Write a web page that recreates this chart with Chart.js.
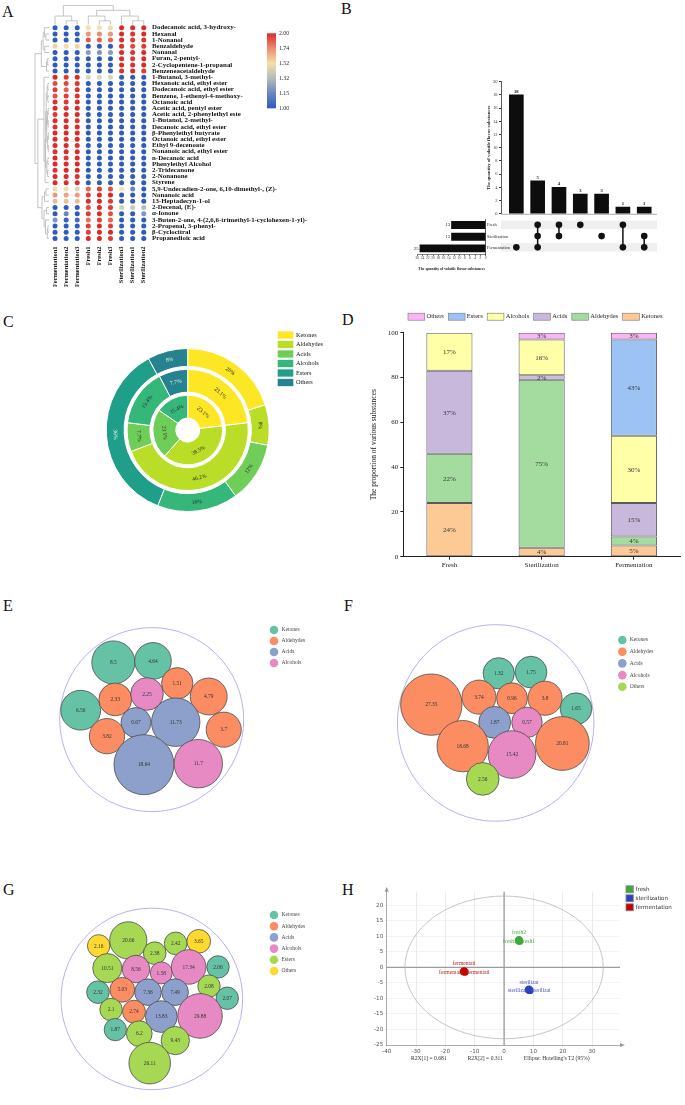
<!DOCTYPE html>
<html>
<head>
<meta charset="utf-8">
<title>Volatile flavor substances</title>
<script src="https://cdn.jsdelivr.net/npm/chart.js@4.4.1/dist/chart.umd.min.js"></script>
<style>
html,body{margin:0;padding:0;background:#fff;}
body{width:685px;height:1105px;position:relative;overflow:hidden;}
canvas{position:absolute;}
.letter{position:absolute;font-family:'Liberation Serif','Times New Roman',serif;font-size:16px;line-height:16px;color:#111;}
</style>
</head>
<body>
<div class="letter" style="left:2px;top:4px">A</div>
<div class="letter" style="left:341px;top:0.5px">B</div>
<div class="letter" style="left:3px;top:314px">C</div>
<div class="letter" style="left:342px;top:312px">D</div>
<div class="letter" style="left:3px;top:598px">E</div>
<div class="letter" style="left:344px;top:598px">F</div>
<div class="letter" style="left:3px;top:882px">G</div>
<div class="letter" style="left:342px;top:882px">H</div>
<script>
// ================= DATA =================
// Panel A - heatmap
const heatRows = ['Dodecanoic acid, 3-hydroxy-','Hexanal','1-Nonanol','Benzaldehyde','Nonanal','Furan, 2-pentyl-','2-Cyclopentene-1-propanal','Benzeneacetaldehyde','1-Butanol, 3-methyl-','Hexanoic acid, ethyl ester','Dodecanoic acid, ethyl ester','Benzene, 1-ethenyl-4-methoxy-','Octanoic acid','Acetic acid, pentyl ester','Acetic acid, 2-phenylethyl este','1-Butanol, 2-methyl-','Decanoic acid, ethyl ester','β-Phenylethyl butyrate','Octanoic acid, ethyl ester','Ethyl 9-decenoate','Nonanoic acid, ethyl ester','n-Decanoic acid','Phenylethyl Alcohol','2-Tridecanone','2-Nonanone','Styrene','5,9-Undecadien-2-one, 6,10-dimethyl-, (Z)-','Nonanoic acid','13-Heptadecyn-1-ol','2-Decenal, (E)-','α-Ionone','3-Buten-2-one, 4-(2,6,6-trimethyl-1-cyclohexen-1-yl)-','2-Propenal, 3-phenyl-','β-Cyclocitral','Propanedioic acid'];
const heatCols = ['Fermentation1','Fermentation2','Fermentation3','Fresh1','Fresh2','Fresh3','Sterilization3','Sterilization1','Sterilization2'];
const heatVals = [
 [1,1,1, 1.47,1.48,1.46, 2,2,2],
 [1,1,1, 1.72,1.74,1.72, 2,1.98,2],
 [1,1,1, 1.88,1.86,1.84, 2,1.96,1.98],
 [1.55,1.53,1.55, 1,1,1, 1.98,1.92,1.96],
 [1,1,1, 1.22,1.2,1.22, 2,1.98,2],
 [1,1,1, 1,1,1, 2,1.96,2],
 [1,1,1, 1,1,1, 2,1.98,2],
 [1,1,1, 1,1,1, 1.98,2,1.96],
 [2,1.96,2, 1.4,1.42,1.4, 1,1,1],
 [1.9,1.92,1.96, 1,1,1, 1,1,1],
 [1.95,1.86,1.98, 1,1,1, 1,1,1],
 [1.9,1.95,1.98, 1,1,1, 1,1,1],
 [1.98,1.96,2, 1,1,1, 1,1,1],
 [2,1.98,2, 1,1,1, 1,1,1],
 [1.96,2,2, 1,1,1, 1,1,1],
 [2,2,1.98, 1,1,1, 1,1,1],
 [1.98,2,2, 1,1,1, 1,1,1],
 [2,2,2, 1,1,1, 1,1,1],
 [2,1.98,2, 1,1,1, 1,1,1],
 [2,2,1.98, 1,1,1, 1,1,1],
 [1.98,2,2, 1,1,1, 1,1,1],
 [2,1.96,2, 1,1,1, 1,1,1],
 [2,2,2, 1,1,1, 1,1,1],
 [1.98,2,2, 1,1,1, 1,1,1],
 [2,2,1.98, 1,1,1, 1,1,1],
 [2,2,2, 1,1,1, 1,1,1],
 [1.46,1.45,1.4, 1.85,1.95,1.9, 1.5,1.15,1],
 [1.7,1.68,1.7, 1.95,2,2, 1,1,1],
 [1.62,1.6,1.62, 2,2,1.95, 1,1,1],
 [1,1,1, 1.9,2,1.95, 1.38,1.36,1.32],
 [1,1.15,1, 1.95,2,1.9, 1,1,1.2],
 [1.2,1.02,1.06, 1.82,1.95,1.85, 1,1,1],
 [1,1,1, 1.95,2,1.95, 1,1,1],
 [1,1,1, 1.95,2,2, 1,1,1],
 [1,1,1, 2,2,1.95, 1,1,1]
];
const colorbarTicks = [2.00,1.74,1.52,1.32,1.15,1.00];
// dendrograms: [childA, childB, height]; leaves 0..n-1, merged nodes n, n+1, ...
const colMerges = [[1,2,0.2],[0,9,0.45],[4,5,0.2],[3,11,0.45],[7,8,0.2],[6,13,0.45],[12,14,0.75],[10,15,1.0]];
const rowMerges = [[5,6,0.12],[35,7,0.18],[3,4,0.3],[1,2,0.22],[0,38,0.32],[39,37,0.42],[40,36,0.55],
 [9,10,0.08],[11,12,0.08],[13,14,0.06],[15,16,0.06],[17,18,0.05],[19,20,0.05],[21,22,0.08],[23,24,0.1],
 [42,43,0.13],[44,45,0.11],[46,47,0.1],[48,49,0.15],[51,52,0.16],[50,54,0.2],[55,53,0.24],[56,25,0.28],[8,57,0.36],
 [26,27,0.22],[59,28,0.32],[29,30,0.18],[32,33,0.08],[62,34,0.12],[31,63,0.25],[61,64,0.35],[60,65,0.5],
 [58,66,0.8],[41,67,1.0]];

// Panel B - UpSet
const setNames = ['Fresh','Sterilization','Fermentation'];
const setSizes = [13,13,25];
const interSizes = [18,5,4,3,3,1,1];
const interMembers = [[2],[0,1,2],[0,1],[0],[1],[0,2],[1,2]];
const upsetYTicks = [0,2,4,6,8,10,12,14,16,18,20];

// Panel C - nested donut (inner: Fresh, middle: Sterilization, outer: Fermentation)
const classNames = ['Ketones','Aldehydes','Acids','Alcohols','Esters','Others'];
const cFresh = [23.1,38.5,23.1,15.4,0,0];
const cSterilization = [23.1,46.2,7.7,15.4,0,7.7];
const cFermentation = [20,8,12,16,36,8];

// Panel D - stacked proportions (%)
const dGroups = ['Fresh','Sterilization','Fermentation'];
const dKetones = [24,4,5];
const dAldehydes = [22,75,4];
const dAcids = [37,2,15];
const dAlcohols = [17,16,30];
const dEsters = [0,0,43];
const dOthers = [0,3,3];
const dTicks = [0,20,40,60,80,100];

// Panel E - Fresh packed bubbles (value, class, layout position in circle units)
const eValues = [8.5,4.64,6.56,2.33,2.25,1.51,4.79,0.67,11.73,3.7,3.82,18.64,11.7];
const eClasses = ['Ketones','Ketones','Ketones','Aldehydes','Alcohols','Aldehydes','Aldehydes','Acids','Acids','Aldehydes','Aldehydes','Acids','Alcohols'];
const eX = [-41.7,1.4,-77.2,-39.6,-5.1,27.8,62,-17.1,26.1,78.3,-48.6,-8.4,50.7];
const eY = [-63.8,-65.5,-10.5,-22.5,-28.6,-40.5,-25.8,3.3,2.9,11.2,18.5,50.3,49.2];

// Panel F - Sterilization
const fValues = [1.32,1.75,27.35,3.74,0.96,3.8,1.65,1.87,0.57,18.68,15.42,20.81,2.56];
const fClasses = ['Ketones','Ketones','Aldehydes','Aldehydes','Aldehydes','Aldehydes','Ketones','Acids','Alcohols','Aldehydes','Alcohols','Aldehydes','Others'];
const fX = [3.1,35.9,-65.5,-17,16.6,50.2,81.7,-1,31.8,-33.6,16.6,67.8,-13.2];
const fY = [-58,-59.4,-21.4,-30.2,-28.9,-28.9,-16.7,-0.7,-0.7,27.1,36.9,24,65.4];

// Panel G - Fermentation
const gValues = [2.16,20.66,2.38,2.42,3.65,10.51,8.56,1.58,17.34,2.06,2.32,5.03,7.36,7.49,2.08,2.07,2.1,2.74,13.83,29.88,1.87,6.2,9.43,26.11];
const gClasses = ['Others','Esters','Esters','Esters','Others','Esters','Alcohols','Alcohols','Alcohols','Ketones','Ketones','Aldehydes','Acids','Acids','Esters','Ketones','Esters','Aldehydes','Acids','Alcohols','Ketones','Esters','Esters','Esters'];
const gX = [-58.5,-25.9,3.2,26.3,51.7,-49,-17.4,10.5,40.6,72.9,-59.3,-32.5,-4.2,25.6,63,83.1,-44.9,-19.6,10.5,53.1,-40.2,-13.8,25.9,-2.3];
const gY = [-63.9,-70.5,-55.1,-66.9,-69.4,-37.1,-36,-31.3,-38.5,-38.5,-8.1,-11,-8.1,-8.1,-15.4,-0.8,12.8,15.4,21.3,20.5,37,41.9,50.2,77.4];

// Panel H - PCA scores
const pcaGroups = ['fresh','sterilization','fermentation'];
const pcaX = [[5.3,5.1,4.9],[8.8,8.5,8.3],[-13.3,-13.6,-13.8]];
const pcaY = [[8.4,8.9,8.6],[-7.4,-7.0,-7.3],[-1.5,-1.1,-1.4]];
const pcaNames = [['fresh1','fresh2','fresh3'],['sterilizat','sterilizat','sterilizat'],['fermentati','fermentati','fermentati']];
const pcaXTicks = [-40,-30,-20,-10,0,10,20,30];
const pcaYTicks = [-25,-20,-15,-10,-5,0,5,10,15,20];
const pcaEllipse = [33.8, 23.0];
const pcaNotes = ['R2X[1] = 0.681','R2X[2] = 0.311',"Ellipse: Hotelling's T2 (95%)"];

// ================= SETUP =================
const SERIF = "'Liberation Serif','Times New Roman',serif";
const SANS = "'DejaVu Sans','Liberation Sans',sans-serif";
Chart.defaults.animation = false;
Chart.defaults.responsive = false;
Chart.defaults.events = [];
Chart.defaults.font.family = SERIF;
Chart.defaults.color = '#222';
Chart.defaults.plugins.legend.display = false;
Chart.defaults.plugins.tooltip.enabled = false;

function mk(l,t,w,h){
  const c=document.createElement('canvas');
  c.width=w;c.height=h;
  Object.assign(c.style,{left:l+'px',top:t+'px',width:w+'px',height:h+'px'});
  document.body.appendChild(c);return c;
}
function hexRgb(h){return [parseInt(h.substr(1,2),16),parseInt(h.substr(3,2),16),parseInt(h.substr(5,2),16)];}
const heatStops=[[1.0,'#2f5bbb'],[1.2,'#7d95c2'],[1.4,'#d9d5b7'],[1.5,'#f4e6b0'],[1.75,'#ec8a6a'],[2.0,'#dc2a28']];
function heatColor(v){
  for(let i=1;i<heatStops.length;i++){
    if(v<=heatStops[i][0]){
      const [v0,c0]=heatStops[i-1],[v1,c1]=heatStops[i];
      const t=Math.max(0,(v-v0)/(v1-v0));const a=hexRgb(c0),b=hexRgb(c1);
      return 'rgb('+a.map((x,k)=>Math.round(x+(b[k]-x)*t)).join(',')+')';
    }
  }
  return heatStops[heatStops.length-1][1];
}
function dendro(ctx,n,merges,leafPos,base,span,top){
  const pos=[],h=[];
  for(let i=0;i<n;i++){pos[i]=leafPos(i);h[i]=0;}
  merges.forEach(([a,b,hh],k)=>{
    const d=base-hh*span,da=base-h[a]*span,db=base-h[b]*span;
    ctx.beginPath();
    if(top){ctx.moveTo(pos[a],da);ctx.lineTo(pos[a],d);ctx.lineTo(pos[b],d);ctx.lineTo(pos[b],db);}
    else{ctx.moveTo(da,pos[a]);ctx.lineTo(d,pos[a]);ctx.lineTo(d,pos[b]);ctx.lineTo(db,pos[b]);}
    ctx.stroke();pos[n+k]=(pos[a]+pos[b])/2;h[n+k]=hh;
  });
}
function drawLegend(ctx,names,colors,x,y,dy,o){
  ctx.save();ctx.font=o.font;ctx.textBaseline='middle';ctx.textAlign='left';
  names.forEach((nm,i)=>{
    const yy=y+i*dy;ctx.fillStyle=colors[i];
    if(o.shape==='circle'){ctx.beginPath();ctx.arc(x,yy,o.r,0,Math.PI*2);ctx.fill();}
    else{ctx.fillRect(x,yy-o.h/2,o.w,o.h);if(o.stroke){ctx.strokeStyle=o.stroke;ctx.lineWidth=0.8;ctx.strokeRect(x,yy-o.h/2,o.w,o.h);}}
    ctx.fillStyle=o.color||'#333';ctx.fillText(nm,o.tx,yy);
  });
  ctx.restore();
}

// ================= PANEL A =================
(function(){
  const L=0,T=0,W=340,H=300;
  const cv=mk(L,T,W,H);
  const pts=[],cols=[];
  heatVals.forEach((row,r)=>row.forEach((v,c)=>{pts.push({x:c,y:r});cols.push(heatColor(v));}));
  const extra={id:'heatExtra',afterDraw(chart){
    const ctx=chart.ctx,xs=chart.scales.x,ys=chart.scales.y,a=chart.chartArea;
    ctx.save();ctx.strokeStyle='#b5b5b5';ctx.lineWidth=0.8;
    dendro(ctx,heatCols.length,colMerges,i=>xs.getPixelForValue(i),a.top,19,true);
    dendro(ctx,heatRows.length,rowMerges,i=>ys.getPixelForValue(i),a.left-0.5,14,false);
    // colour bar
    const bx=267,bw=9,by=33.3,bh=75;
    const g=ctx.createLinearGradient(0,by,0,by+bh);
    colorbarTicks.forEach((t,i)=>g.addColorStop(i/(colorbarTicks.length-1),heatColor(t)));
    ctx.fillStyle=g;ctx.fillRect(bx,by,bw,bh);
    ctx.fillStyle='#222';ctx.font='5.8px '+SERIF;ctx.textBaseline='middle';ctx.textAlign='left';
    colorbarTicks.forEach((t,i)=>ctx.fillText(t.toFixed(2),bx+bw+3,by+i*bh/(colorbarTicks.length-1)));
    ctx.restore();
  }};
  new Chart(cv,{type:'scatter',
    data:{datasets:[{data:pts,backgroundColor:cols,borderWidth:0,pointRadius:2.5,clip:false}]},
    options:{layout:{padding:{left:49.5,top:24.6,right:0,bottom:0}},
      scales:{
        x:{type:'linear',min:-0.5,max:8.5,position:'bottom',offset:false,
          afterBuildTicks:s=>{s.ticks=heatCols.map((_,i)=>({value:i}));},
          afterFit:s=>{s.height=58.4;},
          ticks:{callback:v=>heatCols[v],minRotation:90,maxRotation:90,autoSkip:false,padding:5,color:'#111',font:{size:6.4,weight:'bold'}},
          grid:{display:false,drawTicks:false},border:{display:false}},
        y:{type:'linear',min:-0.5,max:34.5,reverse:true,position:'right',offset:false,
          afterBuildTicks:s=>{s.ticks=heatRows.map((_,i)=>({value:i}));},
          afterFit:s=>{s.width=190.7;},
          ticks:{callback:v=>heatRows[v],autoSkip:false,padding:2.7,crossAlign:'near',color:'#111',font:{size:6.9,weight:'bold'}},
          grid:{display:false,drawTicks:false},border:{display:false}}
      }},
    plugins:[extra]});
})();

// ================= PANEL B =================
(function(){
  // intersection bars
  const cv=mk(340,0,345,218);
  const labels={id:'barVals',afterDatasetsDraw(chart){
    const ctx=chart.ctx,a=chart.chartArea,meta=chart.getDatasetMeta(0);
    ctx.save();ctx.strokeStyle='#999';ctx.lineWidth=0.8;ctx.beginPath();ctx.moveTo(a.left,a.bottom+0.5);ctx.lineTo(a.right,a.bottom+0.5);ctx.stroke();
    ctx.fillStyle='#111';ctx.font='bold 4.6px '+SERIF;ctx.textAlign='center';ctx.textBaseline='bottom';
    meta.data.forEach((b,i)=>ctx.fillText(String(interSizes[i]),b.x,b.y-0.8));
    ctx.restore();
  }};
  new Chart(cv,{type:'bar',
    data:{datasets:[{data:interSizes.map((v,i)=>({x:i,y:v})),backgroundColor:'#0d0d0d',barThickness:14}]},
    options:{layout:{padding:{left:146,right:28,top:81.7,bottom:2.3}},
      scales:{
        x:{type:'linear',min:-0.72,max:6.6,offset:false,display:false},
        y:{min:0,max:20,afterBuildTicks:s=>{s.ticks=upsetYTicks.map(v=>({value:v}));},afterFit:s=>{s.width=15;},
          ticks:{font:{size:4.5},color:'#333',padding:1.5},
          grid:{drawOnChartArea:false,tickLength:2,color:'#333'},border:{color:'#333',width:0.8},
          title:{display:true,text:'The quantity of volatile flavor substances',font:{size:4.8,weight:'bold'},padding:0,color:'#222'}}
      }},
    plugins:[labels]});

  // matrix
  const cv2=mk(340,215,345,42);
  const mds=interMembers.map((m,i)=>({data:m.map(s=>({x:i,y:s})),showLine:true,borderColor:'#111',borderWidth:1.5,pointRadius:3.3,pointBackgroundColor:'#111',pointBorderWidth:0,clip:false}));
  const stripes={id:'stripes',beforeDatasetsDraw(chart){
    const ctx=chart.ctx,ys=chart.scales.y,a=chart.chartArea;
    ctx.save();ctx.fillStyle='#efefef';
    [0,2].forEach(r=>{const y=ys.getPixelForValue(r);ctx.fillRect(a.left,y-4.2,a.width,8.4);});
    ctx.restore();
  }};
  new Chart(cv2,{type:'scatter',data:{datasets:mds},
    options:{layout:{padding:{left:161,right:28,top:4.2,bottom:2.8}},
      scales:{x:{type:'linear',min:-0.72,max:6.6,offset:false,display:false},y:{type:'linear',min:-0.5,max:2.5,reverse:true,display:false}}},
    plugins:[stripes]});

  // set sizes
  const cv3=mk(340,215,180,56);
  const sLabels={id:'setVals',afterDatasetsDraw(chart){
    const ctx=chart.ctx,meta=chart.getDatasetMeta(0);
    ctx.save();ctx.fillStyle='#111';ctx.font='4.6px '+SERIF;ctx.textAlign='right';ctx.textBaseline='middle';
    meta.data.forEach((b,i)=>ctx.fillText(String(setSizes[i]),Math.min(b.x,b.base)-1.5,b.y));
    ctx.restore();
  }};
  new Chart(cv3,{type:'bar',
    data:{labels:setNames,datasets:[{data:setSizes,backgroundColor:'#0d0d0d',barThickness:7.3}]},
    options:{indexAxis:'y',layout:{padding:{left:77.3,right:0,top:4.2,bottom:0}},
      scales:{
        x:{min:0,max:26,reverse:true,afterFit:s=>{s.height=16.8;},
          ticks:{stepSize:2,font:{size:3.6},color:'#333',padding:0.5,maxRotation:0,autoSkip:false},
          grid:{drawOnChartArea:false,tickLength:1.5,color:'#333'},border:{color:'#333',width:0.6},
          title:{display:true,text:'The quantity of volatile flavor substances',font:{size:3.8,weight:'bold'},padding:{top:1,bottom:0},color:'#222'}},
        y:{position:'right',afterFit:s=>{s.width=34.3;},
          ticks:{font:{size:4.3},color:'#222',padding:1.3,crossAlign:'near'},
          grid:{display:false,drawTicks:false},border:{color:'#333',width:0.8}}
      }},
    plugins:[sLabels]});
})();

// ================= PANEL C =================
(function(){
  const L=0,T=305,W=340,H=275;
  const cx=187.7,cy=430,R=82;
  const cv=mk(L,T,W,H);
  const colors=['#fde725','#bade28','#6ece58','#35b779','#1f9e89','#26828e'];
  const lightText=[false,false,false,false,true,true];
  const ring=(d,w)=>({data:d,backgroundColor:colors,borderColor:'#ffffff',borderWidth:1,weight:w});
  const spacer=w=>({data:[1],backgroundColor:['rgba(0,0,0,0)'],borderWidth:0,weight:w,spacer:true});
  const lbl={id:'donutLabels',afterDatasetsDraw(chart){
    const ctx=chart.ctx;ctx.save();ctx.font='5.6px '+SERIF;ctx.textAlign='center';ctx.textBaseline='middle';
    chart.data.datasets.forEach((ds,di)=>{
      if(ds.spacer)return;
      chart.getDatasetMeta(di).data.forEach((arc,i)=>{
        const v=ds.data[i];if(!v)return;
        const p=arc.getProps(['x','y','startAngle','endAngle','innerRadius','outerRadius'],true);
        const a=(p.startAngle+p.endAngle)/2,r=(p.innerRadius+p.outerRadius)/2;
        let rot=a+Math.PI/2;rot=((rot%(2*Math.PI))+2*Math.PI)%(2*Math.PI);
        if(rot>Math.PI/2&&rot<3*Math.PI/2)rot-=Math.PI;
        ctx.save();ctx.translate(p.x+Math.cos(a)*r,p.y+Math.sin(a)*r);ctx.rotate(rot);
        ctx.fillStyle=lightText[i]?'#e6f2f2':'#2a2a2a';
        ctx.fillText((v%1===0?v:v.toFixed(1))+'%',0,0);ctx.restore();
      });
    });
    ctx.restore();
    ctx.save();ctx.translate(-L,-T);
    drawLegend(ctx,classNames,colors,277.7,335,9.5,{shape:'rect',w:15.6,h:7.3,tx:296,font:'6.3px '+SERIF,color:'#111'});
    ctx.restore();
  }};
  new Chart(cv,{type:'doughnut',
    data:{labels:classNames,datasets:[ring(cFermentation,18),spacer(3),ring(cSterilization,23),spacer(3),ring(cFresh,23)]},
    options:{cutout:(12/R*100)+'%',
      layout:{padding:{left:cx-R-L,right:L+W-(cx+R),top:cy-R-T,bottom:T+H-(cy+R)}}},
    plugins:[lbl]});
})();

// ================= PANEL D =================
(function(){
  const L=340,T=305,W=345,H=275;
  const cv=mk(L,T,W,H);
  const series=[['Ketones',dKetones,'#fdc994'],['Aldehydes',dAldehydes,'#a4dca0'],['Acids',dAcids,'#c8b8dc'],['Alcohols',dAlcohols,'#ffffa8'],['Esters',dEsters,'#9cc3f4'],['Others',dOthers,'#fcb4f8']];
  const ds=series.map(([n,d,c])=>({label:n,data:d.map(v=>v>0?v:null),backgroundColor:c,borderColor:'#5a5a5a',borderWidth:1,borderSkipped:false,barPercentage:0.5,categoryPercentage:1}));
  const lbl={id:'pctLabels',afterDatasetsDraw(chart){
    const ctx=chart.ctx;ctx.save();ctx.font='7px '+SERIF;ctx.fillStyle='#333';ctx.textAlign='center';ctx.textBaseline='middle';
    chart.data.datasets.forEach((d,di)=>chart.getDatasetMeta(di).data.forEach((b,i)=>{
      const v=d.data[i];if(!v)return;const p=b.getProps(['x','y','base'],true);
      ctx.fillText(v+'%',p.x,(p.y+p.base)/2+0.5);
    }));
    ctx.restore();
    // legend (reverse order)
    ctx.save();ctx.translate(-L,-T);ctx.font='6.5px '+SERIF;ctx.textBaseline='middle';
    let x=408;const y=316.7;
    series.slice().reverse().forEach(([n,,c])=>{
      ctx.fillStyle=c;ctx.fillRect(x,y-3.5,16.7,7);ctx.strokeStyle='#777';ctx.lineWidth=0.6;ctx.strokeRect(x,y-3.5,16.7,7);
      x+=18.5;ctx.fillStyle='#222';ctx.fillText(n,x,y);x+=ctx.measureText(n).width+4.5;
    });
    ctx.restore();
  }};
  new Chart(cv,{type:'bar',data:{labels:dGroups,datasets:ds},
    options:{layout:{padding:{left:30,right:5,top:27.7,bottom:0}},
      scales:{
        x:{stacked:true,afterFit:s=>{s.height=23.3;},ticks:{font:{size:7},color:'#222',padding:1.5},
          grid:{drawOnChartArea:false,offset:false,tickLength:3,color:'#222'},border:{color:'#222',width:1}},
        y:{stacked:true,min:0,max:100,afterBuildTicks:s=>{s.ticks=dTicks.map(v=>({value:v}));},afterFit:s=>{s.width=33.3;},
          ticks:{font:{size:7},color:'#222',padding:2},
          grid:{drawOnChartArea:false,tickLength:3,color:'#222'},border:{color:'#222',width:1},
          title:{display:true,text:'The proportion of various substances',font:{size:7.5},color:'#222',padding:{top:0,bottom:2}}}
      }},
    plugins:[lbl]});
})();

// ================= PANELS E, F, G =================
const set2 = {Ketones:'#66c2a5',Aldehydes:'#fc8d62',Acids:'#8da0cb',Alcohols:'#e78ac3'};
function bubblePanel(L,T,W,H,cx,cy,R,vals,cls,xs,ys,rMin,rMax,palette,legNames,leg){
  const cv=mk(L,T,W,H);
  const vmin=Math.min(...vals),vmax=Math.max(...vals);
  const data=vals.map((v,i)=>({x:xs[i],y:ys[i],r:rMin+(v-vmin)/(vmax-vmin)*(rMax-rMin)}));
  const extra={id:'bubbleExtra',
    beforeDatasetsDraw(chart){
      const ctx=chart.ctx,x0=chart.scales.x.getPixelForValue(0),y0=chart.scales.y.getPixelForValue(0);
      const rr=chart.scales.x.getPixelForValue(100)-x0;
      ctx.save();ctx.strokeStyle='#b3b3f2';ctx.lineWidth=1;ctx.beginPath();ctx.arc(x0,y0,rr,0,Math.PI*2);ctx.stroke();ctx.restore();
    },
    afterDatasetsDraw(chart){
      const ctx=chart.ctx;ctx.save();ctx.font='5.4px '+SERIF;ctx.fillStyle='#333';ctx.textAlign='center';ctx.textBaseline='middle';
      chart.getDatasetMeta(0).data.forEach((p,i)=>ctx.fillText(String(vals[i]),p.x,p.y+0.3));
      ctx.restore();
      ctx.save();ctx.translate(-L,-T);
      drawLegend(ctx,legNames,legNames.map(n=>palette[n]),leg[0],leg[1],leg[2],{shape:'circle',r:4.3,tx:leg[0]+7.5,font:'5.5px '+SERIF,color:'#444'});
      ctx.restore();
    }};
  new Chart(cv,{type:'bubble',
    data:{datasets:[{data,backgroundColor:cls.map(c=>palette[c]),borderColor:'#4d4d4d',borderWidth:0.8,clip:false}]},
    options:{layout:{padding:{left:cx-R-L,right:L+W-(cx+R),top:cy-R-T,bottom:T+H-(cy+R)}},
      scales:{x:{display:false,min:-100,max:100},y:{display:false,min:-100,max:100,reverse:true}}},
    plugins:[extra]});
}
bubblePanel(0,590,340,250,151.7,722,92,eValues,eClasses,eX,eY,15,30,set2,['Ketones','Aldehydes','Acids','Alcohols'],[274,630,11]);
bubblePanel(340,590,345,250,495.7,735.7,98.3,fValues,fClasses,fX,fY,15.2,30.7,Object.assign({},set2,{Others:'#a6d854'}),['Ketones','Aldehydes','Acids','Alcohols','Others'],[622.3,640,11.7]);
bubblePanel(0,845,340,260,151.8,1006.7,90.8,gValues,gClasses,gX,gY,11,22.3,Object.assign({},set2,{Esters:'#a6d854',Others:'#ffd92f'}),['Ketones','Aldehydes','Acids','Alcohols','Esters','Others'],[274,915,11.2]);

// ================= PANEL H =================
(function(){
  const L=340,T=845,W=345,H=260;
  const cv=mk(L,T,W,H);
  const colors=['#3aaa3a','#2d40c4','#c40000'];
  const textColors=['#4caa4c','#4a58c0','#b32626'];
  const place=['right','above','left'];
  const ds=pcaGroups.map((g,k)=>({label:g,data:pcaX[k].map((x,i)=>({x,y:pcaY[k][i]})),backgroundColor:colors[k],borderColor:colors[k],pointRadius:3.7,pointBorderWidth:0,clip:false}));
  const extra={id:'pcaExtra',
    beforeDatasetsDraw(chart){
      const ctx=chart.ctx,xs=chart.scales.x,ys=chart.scales.y,a=chart.chartArea;
      ctx.save();
      ctx.strokeStyle='#9c9c9c';ctx.lineWidth=1.3;ctx.beginPath();
      const x0=xs.getPixelForValue(0),y0=ys.getPixelForValue(0);
      ctx.moveTo(x0,a.top);ctx.lineTo(x0,a.bottom);ctx.moveTo(a.left,y0);ctx.lineTo(a.right,y0);ctx.stroke();
      ctx.strokeStyle='#b8b8b8';ctx.lineWidth=0.8;ctx.beginPath();
      ctx.ellipse(x0,y0,xs.getPixelForValue(pcaEllipse[0])-x0,y0-ys.getPixelForValue(pcaEllipse[1]),0,0,Math.PI*2);ctx.stroke();
      // axis arrows
      ctx.fillStyle='#999';ctx.beginPath();ctx.moveTo(a.left,a.top-5);ctx.lineTo(a.left-2,a.top);ctx.lineTo(a.left+2,a.top);ctx.fill();
      ctx.beginPath();ctx.moveTo(a.right+5,a.bottom);ctx.lineTo(a.right,a.bottom-2);ctx.lineTo(a.right,a.bottom+2);ctx.fill();
      ctx.restore();
    },
    afterDatasetsDraw(chart){
      const ctx=chart.ctx;ctx.save();ctx.font='5.6px '+SERIF;ctx.textBaseline='middle';
      pcaGroups.forEach((g,k)=>chart.getDatasetMeta(k).data.forEach((p,i)=>{
        ctx.fillStyle=textColors[k];const t=pcaNames[k][i];
        if(place[i]==='above'){ctx.textAlign='center';ctx.fillText(t,p.x,p.y-7);}
        else if(place[i]==='left'){ctx.textAlign='right';ctx.fillText(t,p.x-1.5,p.y+0.5);}
        else{ctx.textAlign='left';ctx.fillText(t,p.x+1.5,p.y+0.5);}
      }));
      ctx.restore();
      ctx.save();ctx.translate(-L,-T);
      ctx.font='5.6px '+SERIF;ctx.fillStyle='#333';ctx.textAlign='center';ctx.textBaseline='middle';
      [428.8,485.3,556.7].forEach((x,i)=>ctx.fillText(pcaNotes[i],x,1058.3));
      drawLegend(ctx,pcaGroups,colors,626,889.3,9,{shape:'rect',w:7.3,h:7,tx:635.5,font:'5.6px '+SANS,color:'#333',stroke:'#888'});
      ctx.restore();
    }};
  new Chart(cv,{type:'scatter',data:{datasets:ds},
    options:{layout:{padding:{left:26.7,right:65,top:46.7,bottom:48}},
      scales:{
        x:{type:'linear',min:-40,max:39.5,afterBuildTicks:s=>{s.ticks=pcaXTicks.map(v=>({value:v}));},afterFit:s=>{s.height=12;},
          ticks:{font:{size:5.6,family:SANS},color:'#555',padding:1.5,maxRotation:0},
          grid:{color:'#e3e3e3',lineWidth:0.7,tickLength:2},border:{color:'#999',width:0.8}},
        y:{type:'linear',min:-25,max:24.4,afterBuildTicks:s=>{s.ticks=pcaYTicks.map(v=>({value:v}));},afterFit:s=>{s.width=20;},
          ticks:{font:{size:5.6,family:SANS},color:'#555',padding:1.5},
          grid:{color:'#eeeeee',lineWidth:0.7,tickLength:2},border:{color:'#999',width:0.8}}
      }},
    plugins:[extra]});
})();
</script>
</body>
</html>
